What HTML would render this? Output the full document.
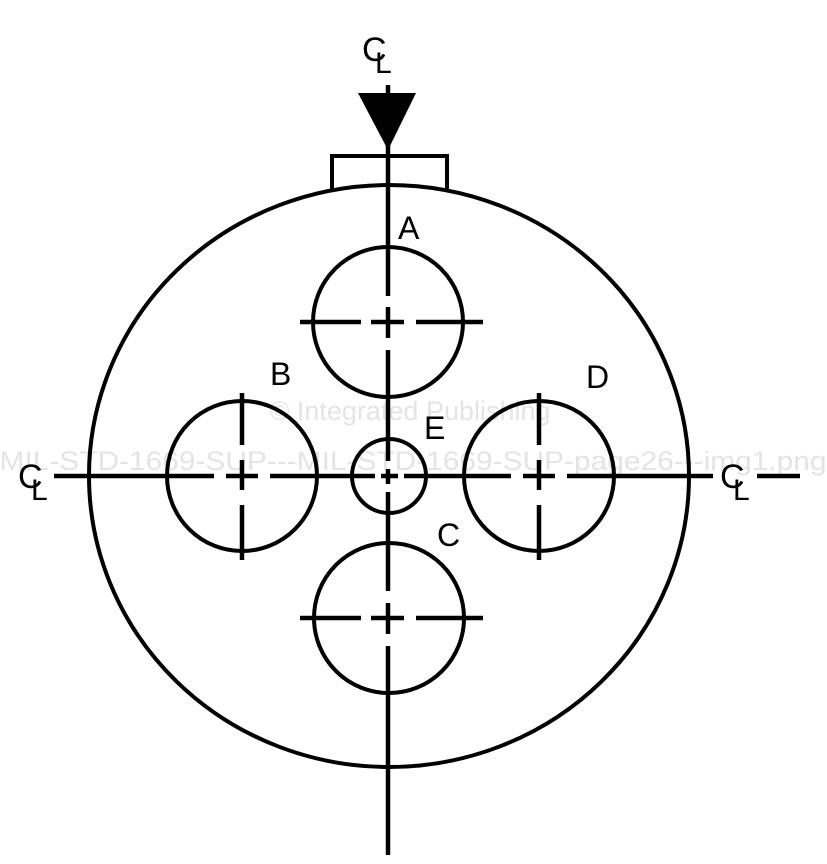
<!DOCTYPE html>
<html><head><style>
html,body{margin:0;padding:0;background:#fff;width:827px;height:864px;overflow:hidden}
svg{display:block}
text{font-family:"Liberation Sans",Arial,sans-serif}
</style></head><body>
<svg width="827" height="864" viewBox="0 0 827 864" xmlns="http://www.w3.org/2000/svg">
<g fill="#e4e4e4" font-size="27">
<text x="410" y="420" text-anchor="middle">© Integrated Publishing</text>
<text x="413" y="470" text-anchor="middle" textLength="827" lengthAdjust="spacingAndGlyphs">MIL-STD-1669-SUP---MIL-STD-1669-SUP-page26---img1.png</text>
</g>
<g fill="none" stroke="#000" stroke-width="4">
<ellipse cx="389" cy="476" rx="300" ry="291"/>
<circle cx="388" cy="322" r="75"/>
<circle cx="242" cy="476" r="75"/>
<circle cx="539" cy="476" r="75"/>
<circle cx="389" cy="618" r="75"/>
<circle cx="389" cy="476" r="37"/>
<path d="M332 192 V156 H447 V192"/>
</g>
<polygon points="358,93 416,93 388,150" fill="#000"/>
<g stroke="#000" stroke-width="4.5" fill="none">
<path d="M388 85 V296 M388 307 V338 M388 350 V461 M388 469 V484 M388 492 V591 M388 603 V634 M388 646 V855"/>
<path d="M54 476 H214 M226 476 H258 M270 476 H375 M381 476 H398 M404 476 H511 M523 476 H555 M567 476 H713 M757 476 H800"/>
<path d="M300 322 H361 M371 322 H404 M416 322 H483"/>
<path d="M300 618 H361 M371 618 H404 M416 618 H483"/>
<path d="M242 393 V445 M242 460 V490 M242 505 V560"/>
<path d="M539 393 V445 M539 460 V490 M539 505 V560"/>
</g>
<g font-size="32" fill="#000">
<text x="398" y="239">A</text>
<text x="270" y="385">B</text>
<text x="586" y="388">D</text>
<text x="424" y="439">E</text>
<text x="437" y="546">C</text>
</g>
<g font-size="34" fill="#000">
<text x="362" y="61">C</text><text x="375" y="73" font-size="30">L</text>
<text x="18" y="488">C</text><text x="31" y="500" font-size="30">L</text>
<text x="720" y="488">C</text><text x="733" y="500" font-size="30">L</text>
</g>
</svg>
</body></html>
